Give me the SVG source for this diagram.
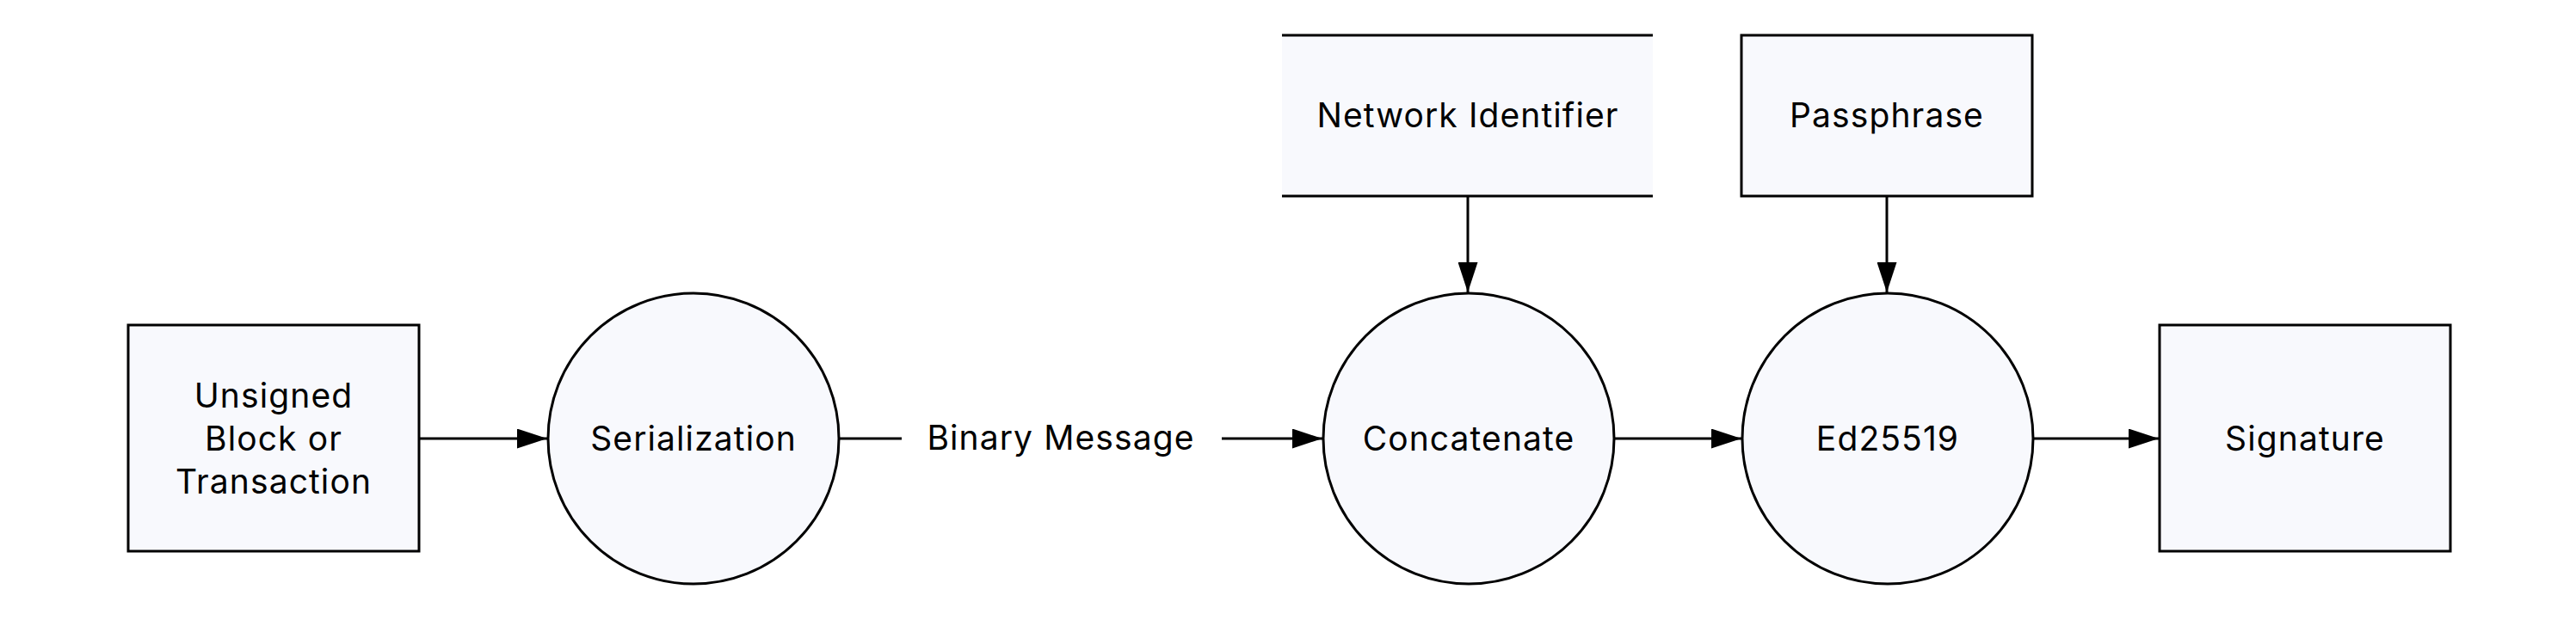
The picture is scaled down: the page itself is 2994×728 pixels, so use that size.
<svg xmlns="http://www.w3.org/2000/svg" width="2994" height="728" viewBox="0 0 2994 728">
<style>
.box{fill:#f8f9fd;stroke:#000;stroke-width:3}
.fill{fill:#f8f9fd;stroke:none}
.edge{fill:none;stroke:#000;stroke-width:3}
text{font-family:Inter,"Noto Sans","Liberation Sans",sans-serif;font-size:39px;letter-spacing:1.1px;fill:#000;text-anchor:middle}
</style>
<defs>
<marker id="arr" viewBox="0 0 35 23" refX="35" refY="11.5" markerWidth="35" markerHeight="23" markerUnits="userSpaceOnUse" orient="auto">
<path d="M0,0 L35,11.5 L0,23 z" fill="#000"/>
</marker>
</defs>
<rect width="2994" height="728" fill="#fff"/>
<g id="unsigned">
<rect class="box" x="149" y="378" width="338" height="263"/>
<text x="318" y="474">Unsigned</text>
<text x="318" y="524">Block or</text>
<text x="318" y="574">Transaction</text>
</g>
<g id="serialization">
<circle class="box" cx="806" cy="510" r="169"/>
<text x="806" y="524">Serialization</text>
</g>
<g id="network-identifier">
<rect class="fill" x="1490" y="41" width="431" height="187" rx="5"/>
<line class="edge" x1="1490" y1="41" x2="1921" y2="41"/>
<line class="edge" x1="1490" y1="228" x2="1921" y2="228"/>
<text x="1706" y="148">Network Identifier</text>
</g>
<g id="concatenate">
<circle class="box" cx="1707" cy="510" r="169"/>
<text x="1707" y="524">Concatenate</text>
</g>
<g id="passphrase">
<rect class="box" x="2024" y="41" width="338" height="187"/>
<text x="2193" y="148">Passphrase</text>
</g>
<g id="ed25519">
<circle class="box" cx="2194" cy="510" r="169"/>
<text x="2194" y="524">Ed25519</text>
</g>
<g id="signature">
<rect class="box" x="2510" y="378" width="338" height="263"/>
<text x="2679" y="524">Signature</text>
</g>
<g id="connectors">
<line class="edge" x1="487" y1="510" x2="636" y2="510" marker-end="url(#arr)"/>
<line class="edge" x1="975" y1="510" x2="1048" y2="510"/>
<text x="1233" y="523">Binary Message</text>
<line class="edge" x1="1420" y1="510" x2="1537" y2="510" marker-end="url(#arr)"/>
<line class="edge" x1="1706" y1="228" x2="1706" y2="340" marker-end="url(#arr)"/>
<line class="edge" x1="1876" y1="510" x2="2024" y2="510" marker-end="url(#arr)"/>
<line class="edge" x1="2193" y1="228" x2="2193" y2="340" marker-end="url(#arr)"/>
<line class="edge" x1="2363" y1="510" x2="2509" y2="510" marker-end="url(#arr)"/>
</g>
</svg>
